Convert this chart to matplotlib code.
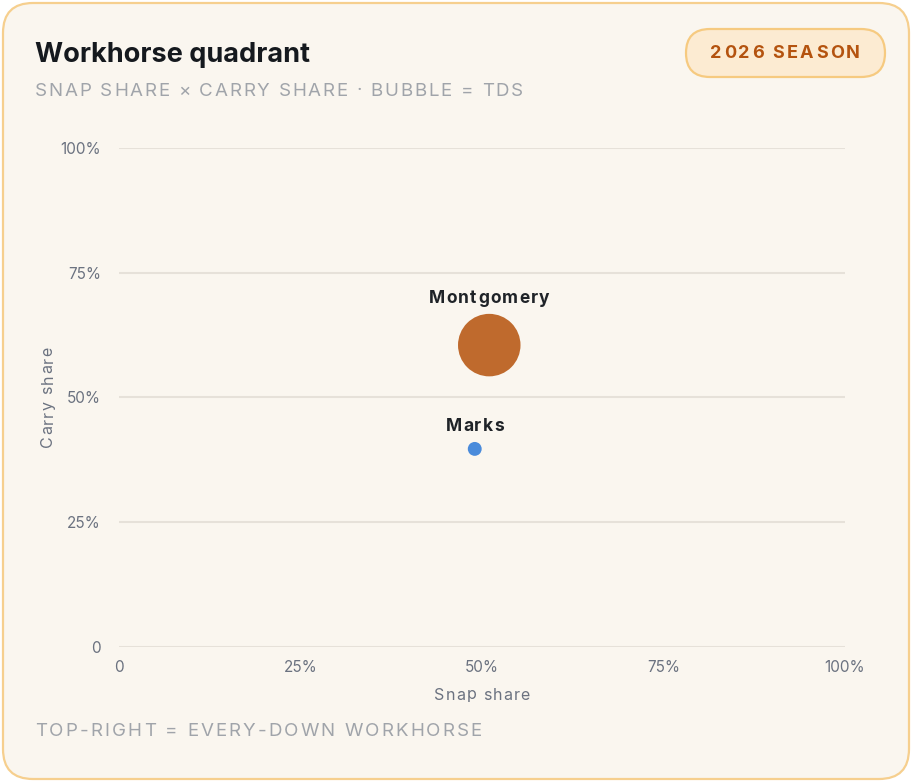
import numpy as np
import matplotlib.pyplot as plt
from matplotlib.patches import FancyBboxPatch

plt.rcParams['font.family'] = ['Inter', 'DejaVu Sans']

# data
players = ['Montgomery', 'Marks']
snap_share = [51, 49]
carry_share = [60.5, 39.7]
tds = [9, 0]
colors = ['#BF6A2D', '#4A8BDB']
ticks = [0, 25, 50, 75, 100]
tick_labels = ['0', '25%', '50%', '75%', '100%']

W, H = 912, 782
fig = plt.figure(figsize=(W / 100, H / 100), dpi=100)
fig.patch.set_facecolor('white')
renderer = fig.canvas.get_renderer()

# background layer in pixel coords
bg = fig.add_axes([0, 0, 1, 1], zorder=-1)
bg.set_xlim(0, W)
bg.set_ylim(H, 0)
bg.axis('off')
bg.add_patch(FancyBboxPatch((3, 3), W - 6, H - 6,
                            boxstyle='round,pad=0,rounding_size=30',
                            facecolor='#FAF6EF', edgecolor='#F6CF8E', linewidth=1.6))
bg.add_patch(FancyBboxPatch((686, 29), 199, 48,
                            boxstyle='round,pad=0,rounding_size=24',
                            facecolor='#FCEBD2', edgecolor='#F6CA80', linewidth=1.6))


def spaced_text(layer, x, y, s, track, ha='left', vertical=False, **kw):
    # draw a string char by char with extra tracking (pixels)
    def width(txt):
        t = layer.text(0, 0, txt, **kw)
        w = t.get_window_extent(renderer).width
        t.remove()
        return w
    w_space = width('a a') - width('aa')
    widths = [w_space if ch == ' ' else width(ch) for ch in s]
    total = sum(widths) + track * (len(s) - 1)
    if ha == 'center':
        start = -total / 2
    else:
        start = 0
    pos = start
    for ch, w in zip(s, widths):
        if vertical:
            layer.text(x, y - pos, ch, ha='left', rotation=90,
                       rotation_mode='anchor', **kw)
        else:
            layer.text(x + pos, y, ch, ha='left', **kw)
        pos += w + track


ax = fig.add_axes([119 / W, 1 - 647 / H, 726 / W, 499 / H], zorder=1)
ax.set_facecolor('none')
ax.set_xlim(0, 100)
ax.set_ylim(0, 100)
ax.set_xticks(ticks)
ax.set_xticklabels(tick_labels)
ax.set_yticks(ticks)
ax.set_yticklabels(tick_labels)
ax.tick_params(length=0, labelsize=11, labelcolor='#6B7280')
ax.tick_params(axis='x', pad=9)
ax.tick_params(axis='y', pad=13)
ax.yaxis.grid(True, color='#E6E1D9', linewidth=1.5)
ax.xaxis.grid(False)
ax.set_axisbelow(True)
for s in ax.spines.values():
    s.set_visible(False)

# bubble radius in points from TDs
r_min, r_max = 5.0, 22.5
radii = [r_min + (r_max - r_min) * np.sqrt(t / max(tds)) for t in tds]
sizes = [(2 * r) ** 2 for r in radii]
ax.scatter(snap_share, carry_share, s=sizes, c=colors, zorder=3, linewidths=0)

# labels above bubbles, converted to pixel coords of the bg layer
for name, x, y, r in zip(players, snap_share, carry_share, radii):
    px, py = ax.transData.transform((x, y))
    spaced_text(bg, px, H - py - r * 100 / 72 - 15, name, 1.3, ha='center',
                fontsize=12.5, fontweight='bold', color='#1F2328', va='center')

# axis titles (tracked)
spaced_text(bg, 482, 695, 'Snap share', 1.2, ha='center', fontsize=11.5,
            color='#6B7280', va='center')
spaced_text(bg, 48, 397, 'Carry share', 1.2, ha='center', vertical=True,
            fontsize=11.5, color='#6B7280', va='center')

# header
bg.text(35, 55, 'Workhorse quadrant', fontsize=19.5, fontweight='bold',
        color='#15191E', va='center', ha='left')
spaced_text(bg, 35, 91, 'SNAP SHARE × CARRY SHARE · BUBBLE = TDS', 1.8,
            fontsize=13.5, color='#A0A4AA', va='center')
spaced_text(bg, 35, 731, 'TOP-RIGHT = EVERY-DOWN WORKHORSE', 2.1,
            fontsize=13.5, color='#A0A4AA', va='center')
spaced_text(bg, 785, 53, '2026 SEASON', 2.3, ha='center', fontsize=13,
            fontweight='bold', color='#B4530F', va='center')

fig.savefig('out.png', dpi=100, facecolor='white')
